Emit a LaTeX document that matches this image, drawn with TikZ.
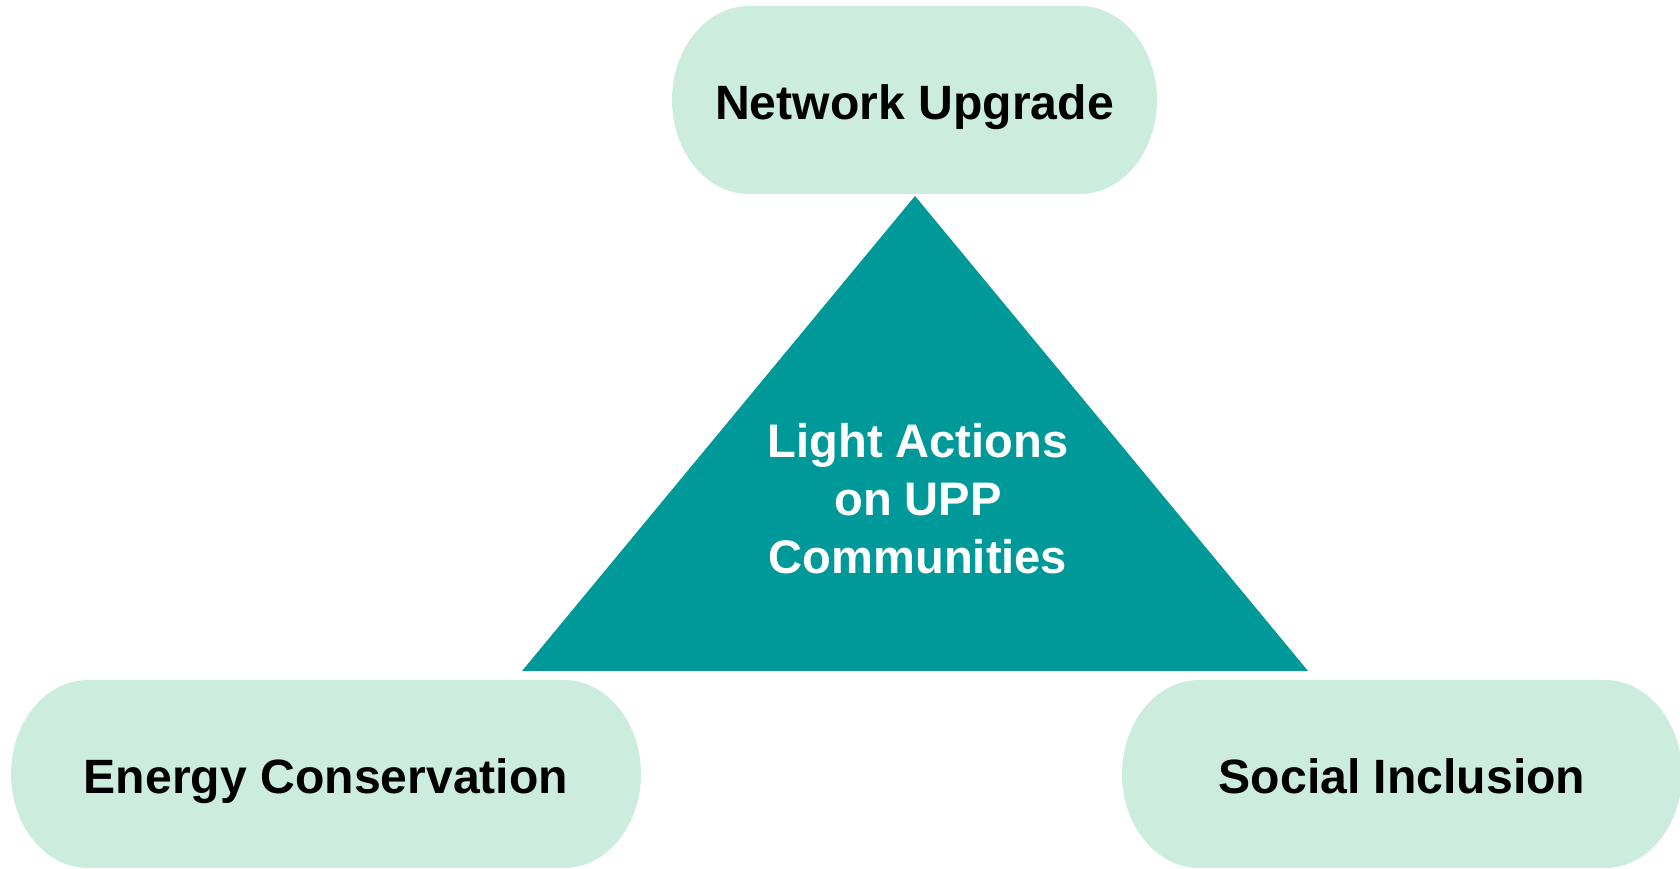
\documentclass[tikz,border=0pt]{standalone}
\usepackage{fontspec}
\setmainfont{Liberation Sans}
\usetikzlibrary{backgrounds}
\definecolor{mint}{RGB}{204,237,222}
\definecolor{upteal}{RGB}{0,153,153}

\begin{document}
\begin{tikzpicture}
	\tikzstyle{pill}=[rectangle, minimum height=18.8mm, inner sep=0pt, outer sep=0pt, text height=4mm, text depth=0pt, font=\fontsize{13.7}{16}\selectfont\bfseries]
	\tikzstyle{core}=[fill=upteal]
	\tikzstyle{coretext}=[align=center, text=white, font=\fontsize{13.4}{16.5}\selectfont\bfseries]
	\useasboundingbox (0,0) rectangle (16.8,8.69);

	% three goals
	\node[pill, minimum width=48.5mm] (upgrade) at (9.145,7.69) {Network Upgrade};
	\node[pill, minimum width=63mm] (energy) at (3.26,0.95) {Energy Conservation};
	\node[pill, minimum width=56mm] (social) at (14.02,0.95) {Social Inclusion};
	\begin{scope}[on background layer]
		\foreach \n in {upgrade,energy,social}
			\fill[mint] ([xshift=7.7mm]\n.north west) -- ([xshift=-7.7mm]\n.north east)
				arc[start angle=90, end angle=-90, x radius=7.7mm, y radius=9.4mm]
				-- ([xshift=7.7mm]\n.south west)
				arc[start angle=270, end angle=90, x radius=7.7mm, y radius=9.4mm] -- cycle;
	\end{scope}

	% central triangle
	\coordinate (top) at (9.15,6.73);
	\coordinate (left) at (5.22,1.98);
	\coordinate (right) at (13.08,1.98);
	\fill[core] (top) -- (left) -- (right) -- cycle;
	\node[coretext] (light) at (9.18,3.70) {Light Actions\\on UPP\\Communities};
\end{tikzpicture}
\end{document}
